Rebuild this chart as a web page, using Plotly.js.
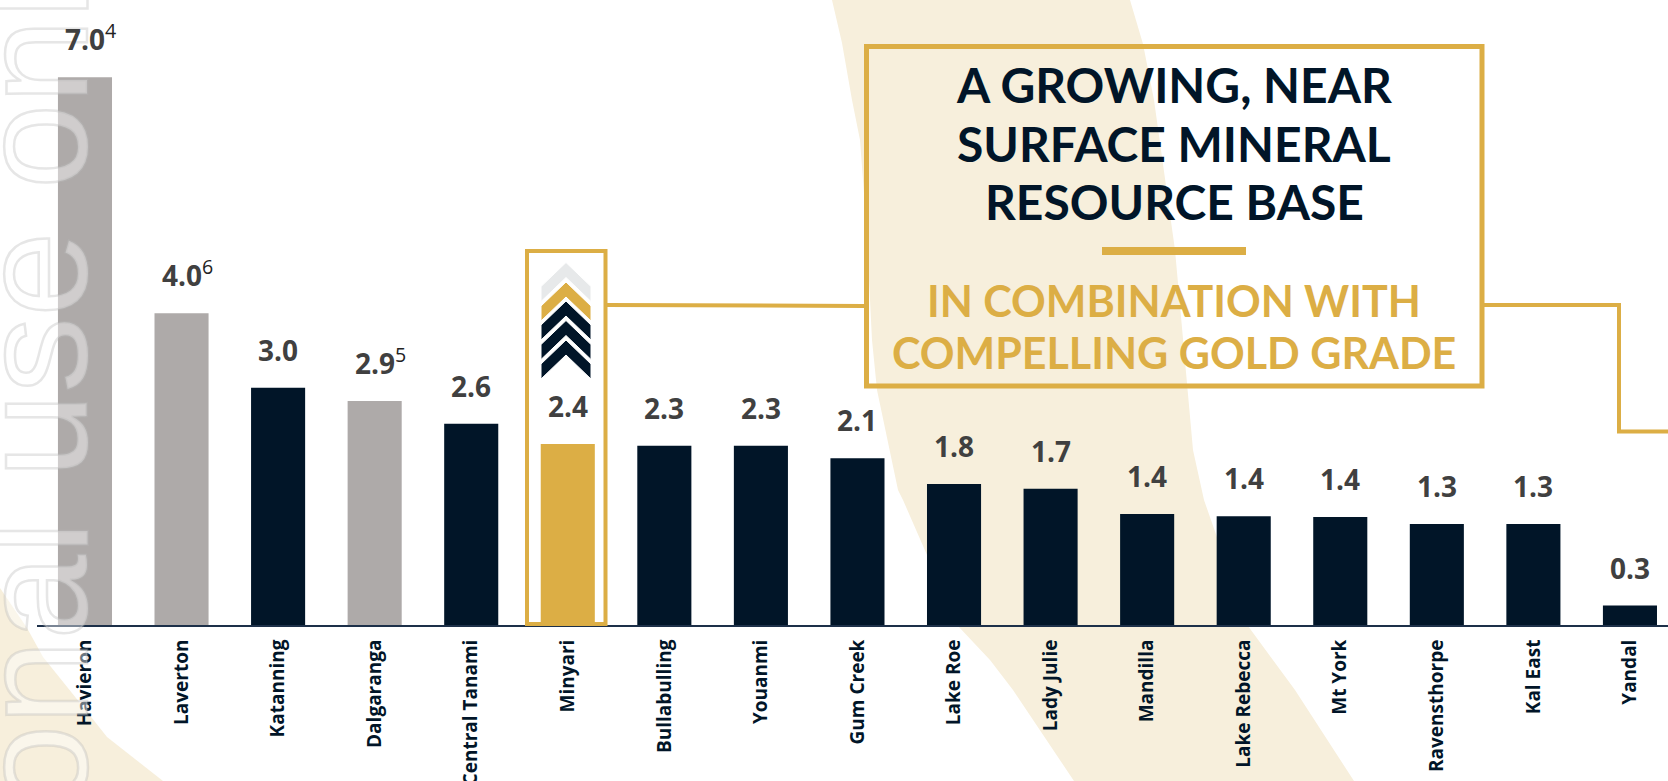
<!DOCTYPE html>
<html>
<head>
<meta charset="utf-8">
<script src="https://cdn.plot.ly/plotly-3.0.1.min.js"></script>
<style>
html,body{margin:0;padding:0;background:#fff;overflow:hidden}
#chart{width:1668px;height:781px}
.annotation[data-index="0"] text{fill:rgba(255,255,255,0.42) !important;stroke:rgba(185,185,185,0.36);stroke-width:2.5px;}
</style>
</head>
<body>
<div id="chart"></div>
<script>
const categories=['Havieron','Laverton','Katanning','Dalgaranga','Central Tanami','Minyari','Bullabulling','Youanmi','Gum Creek','Lake Roe','Lady Julie','Mandilla','Lake Rebecca','Mt York','Ravensthorpe','Kal East','Yandal'];
const values=[7.0,3.99,3.04,2.87,2.58,2.32,2.30,2.30,2.14,1.81,1.75,1.43,1.40,1.39,1.30,1.30,0.26];
const labels=['7.0','4.0','3.0','2.9','2.6','2.4','2.3','2.3','2.1','1.8','1.7','1.4','1.4','1.4','1.3','1.3','0.3'];
const notes=['4','6','','5','','','','','','','','','','','','',''];
const kinds=['other','other','peer','other','peer','focus','peer','peer','peer','peer','peer','peer','peer','peer','peer','peer','peer'];
const kindColors={other:'#aeaaa9',peer:'#011528',focus:'#dcae45'};
const GOLD='#dcae45',NAVY='#011528',BEIGE='#f7efdc';
const W=1668,H=781,PH=626;
const px=x=>x/W, py=y=>1-y/PH;
const P=(pts,close)=>'M'+pts.map(p=>px(p[0])+' '+py(p[1])).join(' L')+(close?' Z':'');
function rect(x0,y0,x1,y1,extra){return Object.assign({type:'rect',xref:'paper',yref:'paper',x0:px(x0),x1:px(x1),y0:py(y1),y1:py(y0)},extra);}
function pline(pts,w,c){return {type:'path',xref:'paper',yref:'paper',path:P(pts),line:{color:c,width:w},layer:'above'};}
function chevron(t,c){return {type:'path',xref:'paper',yref:'paper',layer:'above',
 path:P([[566,t],[591,t+24],[591,t+39],[566,t+15],[541,t+39],[541,t+24]],true),fillcolor:c,line:{color:'#fff',width:1}};}
const bandL=[[832,0],[842,43],[852,100],[860,140],[866,220],[872,340],[877,390],[898,490],[903,500],[958,626],[990,660],[1013,690],[1074,781]];
const bandR=[[1354,781],[1295,690],[1248,626],[1204,500],[1193,450],[1175,250],[1154,100],[1143,44],[1130,0]];
const cornerEdge=[[0,588],[27,628],[43,657],[80,703],[107,737],[163,781],[0,781]];
const shapes=[
 {type:'path',xref:'paper',yref:'paper',layer:'below',path:P(bandL.concat(bandR),true),fillcolor:BEIGE,line:{width:0}},
 {type:'path',xref:'paper',yref:'paper',layer:'below',path:P(cornerEdge,true),fillcolor:BEIGE,line:{width:0}},
 pline([[37,626],[W,626]],2,'#1d3049'),
 pline([[607,305],[864,306]],4,GOLD),
 pline([[1484,305],[1619,305],[1619,431.5],[W,431.5]],4,GOLD),
 rect(527,251,605.5,624,{line:{color:GOLD,width:4},layer:'above'}),
 rect(866.5,46.5,1482,386,{line:{color:GOLD,width:5},layer:'above'}),
 rect(1102,247,1246,255,{fillcolor:GOLD,line:{width:0},layer:'above'}),
 chevron(262.5,'#e7e9ea'),chevron(282,GOLD),chevron(301,NAVY),chevron(320.5,NAVY),chevron(340,NAVY)
];
function textNote(text,x,y,size,color){return {text:text,xref:'paper',yref:'paper',x:px(x),y:py(y),showarrow:false,xanchor:'center',yanchor:'middle',font:{family:'Lato',size:size,color:color,weight:700}};}
const annotations=[
 {text:'onal use onl',xref:'paper',yref:'paper',x:px(33),y:py(398),textangle:-90,showarrow:false,xanchor:'center',yanchor:'middle',font:{family:'Liberation Sans',size:153,color:'#e2e2e2'}},
 textNote('A GROWING, NEAR',1174,85,48,NAVY),
 textNote('SURFACE MINERAL',1174,143,48,NAVY),
 textNote('RESOURCE BASE',1174,201,48,NAVY),
 textNote('IN COMBINATION WITH',1174,300,43,GOLD),
 textNote('COMPELLING GOLD GRADE',1174,352,43,GOLD)
];
labels.forEach((l,i)=>{annotations.push({
 text:'<b>'+l+'</b>'+(notes[i]?'<sup><span style="color:#222">'+notes[i]+'</span></sup>':''),
 x:categories[i],y:values[i],xref:'x',yref:'y',showarrow:false,xanchor:'center',yanchor:'bottom',yshift:17,xshift:notes[i]?6:0,
 font:{family:'Open Sans',size:28,color:'#404040'}});});
const trace={type:'bar',x:categories,y:values,marker:{color:kinds.map(k=>kindColors[k]),line:{width:0}},hoverinfo:'x+y'};
const layout={width:W,height:H,margin:{l:0,r:0,t:0,b:H-PH,pad:0},paper_bgcolor:'#fff',plot_bgcolor:'rgba(0,0,0,0)',showlegend:false,bargap:0.44,
 xaxis:{type:'category',categoryorder:'array',categoryarray:categories,range:[-0.88,16.394],tickangle:-90,ticks:'outside',ticklen:5,tickcolor:'rgba(0,0,0,0)',showline:false,showgrid:false,zeroline:false,automargin:false,
  tickfont:{family:'Open Sans',size:19,color:NAVY,weight:700}},
 yaxis:{range:[0,7.985],visible:false,fixedrange:true},
 shapes:shapes,annotations:annotations};
Plotly.newPlot('chart',[trace],layout,{displayModeBar:false,staticPlot:true});
</script>
</body>
</html>
